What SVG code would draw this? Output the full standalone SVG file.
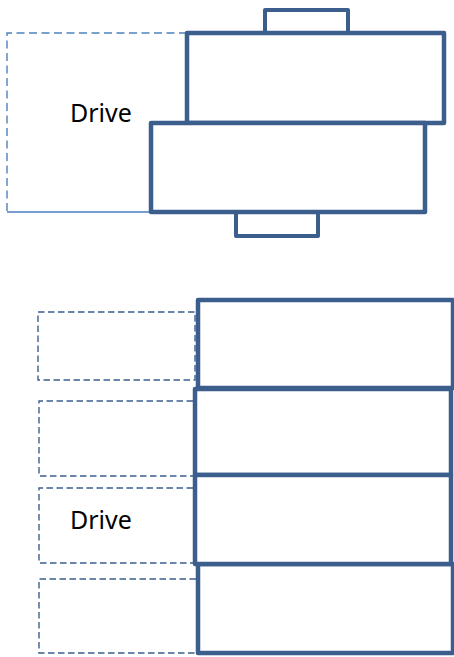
<svg xmlns="http://www.w3.org/2000/svg" width="454" height="657" viewBox="0 0 454 657">
  <style>
    .block { fill: #ffffff; stroke: #3b5e8c; stroke-width: 4.5; stroke-linejoin: round; }
    .tab { fill: #ffffff; stroke: #3b5e8c; stroke-width: 4; stroke-linejoin: round; }
    .slot { fill: none; stroke: #3d5f8f; stroke-width: 1.4; stroke-dasharray: 6.5 3.5; }
    .outline { fill: none; stroke: #4f81bd; stroke-width: 1.4; stroke-dasharray: 8 4.5; }
    .label { font-family: "Noto Sans", "DejaVu Sans", sans-serif; font-size: 25px; fill: #000000; }
  </style>
  <rect width="454" height="657" fill="#ffffff"/>

  <!-- upper assembly: two offset blocks with tabs -->
  <g id="drive-outline-top">
    <path class="outline" d="M187 33 H7 V212"/>
    <path d="M7 212 H190" fill="none" stroke="#4a7ebb" stroke-width="1.4"/>
    <text class="label" x="70" y="122">Drive</text>
  </g>
  <g id="tab-top">
    <rect class="tab" x="265" y="10" width="83" height="23"/>
  </g>
  <g id="tab-bottom">
    <rect class="tab" x="236" y="212" width="82" height="24"/>
  </g>
  <g id="block-upper">
    <rect class="block" x="187" y="33" width="257" height="90"/>
  </g>
  <g id="block-lower">
    <rect class="block" x="151" y="123" width="274" height="89"/>
  </g>

  <!-- lower assembly: stacked blocks with dashed slots -->
  <g id="slot-1">
    <rect class="slot" x="38" y="312" width="157" height="68"/>
  </g>
  <g id="slot-2">
    <path class="slot" d="M193 401 H39 V476 H193"/>
  </g>
  <g id="slot-3">
    <path class="slot" d="M193 488 H39 V563 H193"/>
    <text class="label" x="70" y="529">Drive</text>
  </g>
  <g id="slot-4">
    <path class="slot" d="M196 579 H39 V653 H196"/>
  </g>
  <g id="stack-1">
    <rect class="block" x="198" y="300" width="255" height="88"/>
  </g>
  <g id="stack-4">
    <rect class="block" x="198" y="564" width="255" height="89"/>
  </g>
  <g id="stack-2">
    <rect class="block" x="195" y="389" width="256" height="86" stroke-width="5"/>
  </g>
  <g id="stack-3">
    <rect class="block" x="195" y="475" width="256" height="89"/>
  </g>

  <g id="connectors"></g>
</svg>
